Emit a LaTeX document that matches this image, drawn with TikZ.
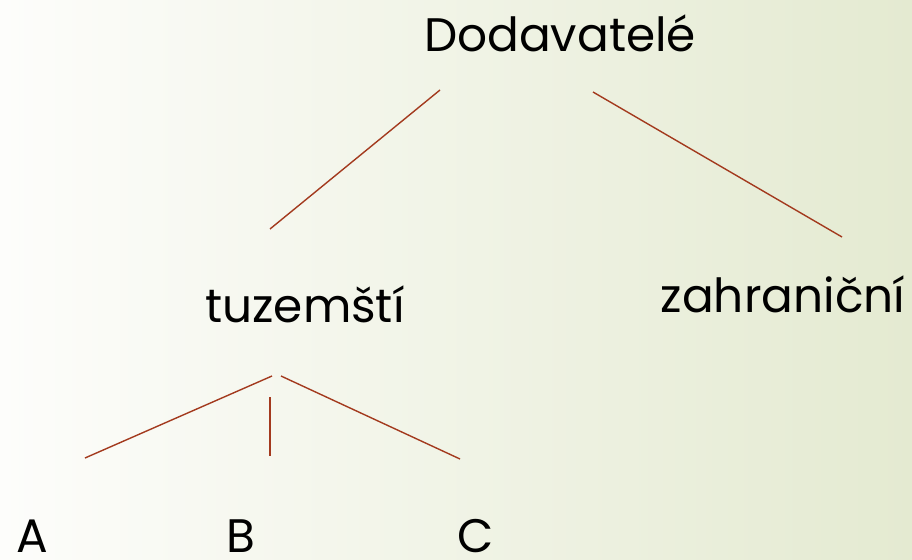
\documentclass[tikz,border=0pt]{standalone}
\usepackage{fontspec}
\setmainfont{Poppins}
\definecolor{branch}{HTML}{A33A1E}
\definecolor{paper}{HTML}{FDFDFB}
\definecolor{mist}{HTML}{F7F8F1}
\definecolor{sage}{HTML}{E4EAD1}
\tikzset{
  label/.style={anchor=base,inner sep=0pt,font=\fontsize{47}{56}\selectfont},
  branch/.style={draw=branch,line width=1.4pt}
}
\begin{document}
\begin{tikzpicture}[x=1pt,y=-1pt]
  \useasboundingbox (0,0) rectangle (912,559);
  \shade[left color=paper,middle color=mist,right color=sage]
    (0,0) rectangle (912,559);
  % labels
  \node[label] (dod) at (560,52) {Dodavatelé};
  \node[label] (tuz) at (305,322) {tuzemští};
  \node[label] (zah) at (783,312) {zahraniční};
  \node[label] (a) at (32,552) {A};
  \node[label] (b) at (241,552) {B};
  \node[label] (c) at (476,552) {C};
  % end points of the branches
  \coordinate (dodL) at (440,90);
  \coordinate (dodR) at (593,92);
  \coordinate (tuzT) at (270,229);
  \coordinate (zahT) at (842,237);
  \coordinate (tuzL) at (272,376);
  \coordinate (tuzM) at (270,397);
  \coordinate (tuzR) at (281,376);
  \coordinate (aT) at (85,458);
  \coordinate (bT) at (270,456);
  \coordinate (cT) at (460,459);
  \draw[branch] (dodL) -- (tuzT);
  \draw[branch] (dodR) -- (zahT);
  \draw[branch] (tuzL) -- (aT);
  \draw[branch] (tuzM) -- (bT);
  \draw[branch] (tuzR) -- (cT);
\end{tikzpicture}
\end{document}
